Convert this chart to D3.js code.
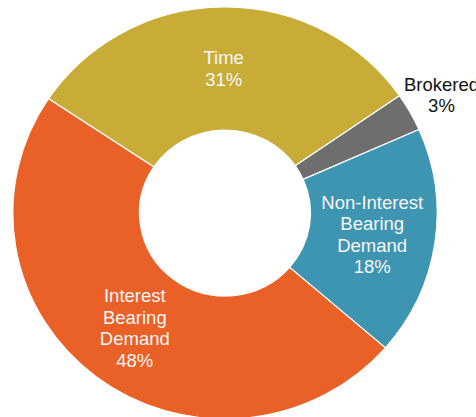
<!DOCTYPE html>
<html>
<head>
<meta charset="utf-8">
<script src="https://cdn.jsdelivr.net/npm/d3@7"></script>
<style>
  html, body { margin: 0; padding: 0; background: #fff; overflow: hidden; }
  svg { display: block; }
</style>
</head>
<body>
<svg id="chart" width="476" height="417"></svg>
<script>
// deposit mix, clockwise from the Time slice
const categories = ["Time", "Brokered", "Non-Interest Bearing Demand", "Interest Bearing Demand"]
const values = [31, 3, 18, 48]
const labelLines = [["Time"], ["Brokered"], ["Non-Interest", "Bearing", "Demand"], ["Interest", "Bearing", "Demand"]]
const colors = ["#c9ac37", "#6e6e6e", "#3e95b1", "#e96126"]

const width = 476, height = 417
const cx = 225, cy = 213
const outerR = 206, innerR = 83
const stretch = 1.03 // the reference donut is slightly wider than tall

const svg = d3.select("#chart")

const pie = d3.pie()
  .sort(null)
  .startAngle(-56.3 * Math.PI / 180)
  .endAngle((360 - 56.3) * Math.PI / 180)
  .value(d => d.value)

const data = categories.map((c, i) => ({ name: c, value: values[i], lines: labelLines[i], color: colors[i] }))
const arcs = pie(data)

const arc = d3.arc().innerRadius(innerR).outerRadius(outerR)

// Slices
svg.append("g")
  .attr("transform", `translate(${cx},${cy}) scale(${stretch},1)`)
  .selectAll("path")
  .data(arcs)
  .join("path")
  .attr("d", arc)
  .attr("fill", d => d.data.color)
  .attr("stroke", "#fff")
  .attr("stroke-width", 1.2)

// Labels: inside slices at the centroid, small slice gets an outside label
const fontSize = 18.5, lineH = 21.5
const outsideArc = d3.arc().innerRadius(241).outerRadius(241)

const labels = svg.append("g")
  .attr("font-family", "'Liberation Sans', Arial, sans-serif")
  .attr("font-size", fontSize)
  .attr("text-anchor", "middle")

arcs.forEach(d => {
  const outside = d.data.value < 5
  const [x, y] = outside ? outsideArc.centroid(d) : arc.centroid(d)
  const lines = d.data.lines.concat([`${d.data.value}%`])
  const top = cy + y - (lines.length - 1) * lineH / 2
  const t = labels.append("text")
    .attr("fill", outside ? "#111" : "#f7f7f7")
  lines.forEach((ln, i) => {
    t.append("tspan")
      .attr("x", cx + x * stretch)
      .attr("y", top + i * lineH)
      .attr("dy", "0.35em")
      .text(ln)
  })
})
</script>
</body>
</html>
